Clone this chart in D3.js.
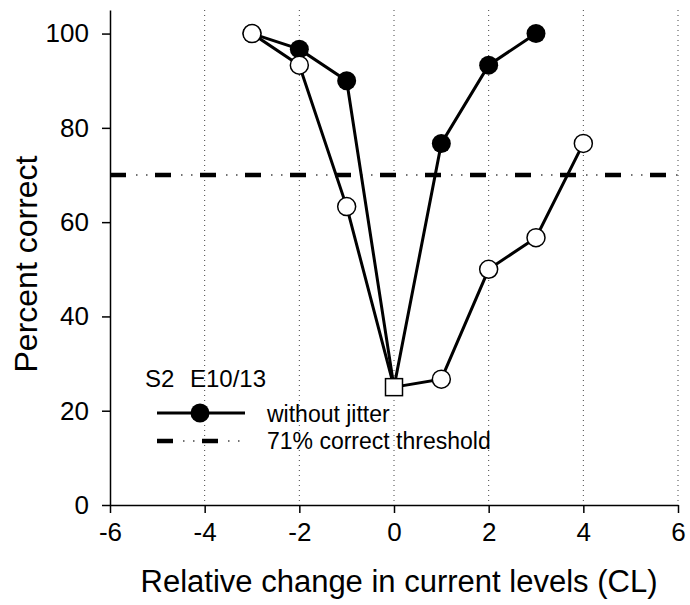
<!DOCTYPE html>
<html>
<head>
<meta charset="utf-8">
<script src="https://cdn.jsdelivr.net/npm/d3@7"></script>
<style>
  body { margin: 0; background: #fff; }
  svg { font-family: "Liberation Sans", Arial, sans-serif; }
</style>
</head>
<body>
<svg width="690" height="605"></svg>
<script>
// data
var levelsNoJitter = [-3, -2, -1, 0, 1, 2, 3],
    pctNoJitter    = [100, 96.7, 90, 25, 76.7, 93.3, 100],
    levelsJitter   = [-3, -2, -1, 0, 1, 2, 3, 4],
    pctJitter      = [100, 93.3, 63.3, 25, 26.7, 50, 56.7, 76.7],
    threshold      = 70,
    xTicks         = [-6, -4, -2, 0, 2, 4, 6],
    yTicks         = [0, 20, 40, 60, 80, 100],
    gridLevels     = [-4, -2, 0, 2, 4, 6];

var svg = d3.select('svg'),
    x = d3.scaleLinear().domain([-6, 6]).range([110, 678]),
    y = d3.scaleLinear().domain([0, 105]).range([505, 10]),
    line = d3.line()
             .x(function(d) { return x(d[0]); })
             .y(function(d) { return y(d[1]); });

var noJitter = d3.zip(levelsNoJitter, pctNoJitter),
    jitter = d3.zip(levelsJitter, pctJitter);

// dotted vertical grid
svg.append('g').selectAll('line')
   .data(gridLevels)
   .enter().append('line')
     .attr('x1', function(d) { return x(d); })
     .attr('x2', function(d) { return x(d); })
     .attr('y1', y(105))
     .attr('y2', y(0))
     .attr('stroke', '#444')
     .attr('stroke-width', 1)
     .attr('stroke-dasharray', '1 4');

// threshold: long dash + two dots
function thresholdLine(g, x1, x2, yy) {
  g.append('line')
   .attr('x1', x1).attr('x2', x2).attr('y1', yy).attr('y2', yy)
   .attr('stroke', '#000').attr('stroke-width', 4.5)
   .attr('stroke-dasharray', '16 29');
  g.append('line')
   .attr('x1', x1).attr('x2', x2).attr('y1', yy).attr('y2', yy)
   .attr('stroke', '#444').attr('stroke-width', 1.5)
   .attr('stroke-dasharray', '1.5 8.5 1.5 33.5')
   .attr('stroke-dashoffset', 19);
}
thresholdLine(svg.append('g'), x(-6), x(6), y(threshold));

// axes
var xAxis = svg.append('g')
   .attr('transform', 'translate(0,' + y(0) + ')')
   .call(d3.axisBottom(x).tickValues(xTicks).tickSizeInner(8).tickSizeOuter(0).tickPadding(10));
var yAxis = svg.append('g')
   .attr('transform', 'translate(' + x(-6) + ',0)')
   .call(d3.axisLeft(y).tickValues(yTicks).tickSizeInner(8).tickSizeOuter(0).tickPadding(13));

[xAxis, yAxis].forEach(function(a) {
  a.selectAll('path, line').attr('stroke', '#000').attr('stroke-width', 1.5);
  a.selectAll('text').attr('font-size', 26).attr('fill', '#000')
   .style('font-family', '"Liberation Sans", Arial, sans-serif');
});
xAxis.selectAll('text').text(function(d) { return d < 0 ? '-' + Math.abs(d) : d; });

// axis titles
svg.append('text')
   .attr('x', 399).attr('y', 592)
   .attr('text-anchor', 'middle')
   .attr('font-size', 31)
   .text('Relative change in current levels (CL)');
svg.append('text')
   .attr('transform', 'translate(37,264) rotate(-90)')
   .attr('text-anchor', 'middle')
   .attr('font-size', 32)
   .text('Percent correct');

// series without jitter (filled)
svg.append('path')
   .datum(noJitter)
   .attr('d', line)
   .attr('fill', 'none').attr('stroke', '#000').attr('stroke-width', 3);
svg.append('g').selectAll('circle')
   .data(noJitter.filter(function(d) { return d[0] !== 0; }))
   .enter().append('circle')
     .attr('cx', function(d) { return x(d[0]); })
     .attr('cy', function(d) { return y(d[1]); })
     .attr('r', 9.5)
     .attr('fill', '#000');

// series with jitter (open)
svg.append('path')
   .datum(jitter)
   .attr('d', line)
   .attr('fill', 'none').attr('stroke', '#000').attr('stroke-width', 3);
svg.append('g').selectAll('circle')
   .data(jitter.filter(function(d) { return d[0] !== 0; }))
   .enter().append('circle')
     .attr('cx', function(d) { return x(d[0]); })
     .attr('cy', function(d) { return y(d[1]); })
     .attr('r', 9)
     .attr('fill', '#fff')
     .attr('stroke', '#000')
     .attr('stroke-width', 1.5);

// reference point at 0 (square)
svg.append('g').selectAll('rect')
   .data(jitter.filter(function(d) { return d[0] === 0; }))
   .enter().append('rect')
     .attr('x', function(d) { return x(d[0]) - 8.5; })
     .attr('y', function(d) { return y(d[1]) - 8.5; })
     .attr('width', 17).attr('height', 17)
     .attr('fill', '#fff')
     .attr('stroke', '#000')
     .attr('stroke-width', 1.5);

// legend
var legend = svg.append('g');
legend.append('text').attr('x', 145).attr('y', 387).attr('font-size', 24).text('S2');
legend.append('text').attr('x', 190).attr('y', 387).attr('font-size', 24).text('E10/13');
legend.append('line')
      .attr('x1', 157).attr('x2', 245).attr('y1', 413).attr('y2', 413)
      .attr('stroke', '#000').attr('stroke-width', 3);
legend.append('circle').attr('cx', 200).attr('cy', 413).attr('r', 9.5).attr('fill', '#000');
legend.append('text').attr('x', 267).attr('y', 422).attr('font-size', 23).text('without jitter');
thresholdLine(legend, 157, 242, 441);
legend.append('text').attr('x', 267).attr('y', 449).attr('font-size', 23).text('71% correct threshold');
</script>
</body>
</html>
